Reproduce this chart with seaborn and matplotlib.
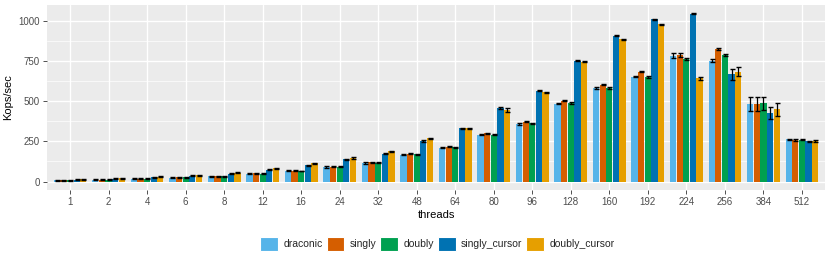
import matplotlib
matplotlib.use("Agg")
import matplotlib.pyplot as plt
from matplotlib.patches import Patch
from matplotlib.ticker import MultipleLocator
import numpy as np
import pandas as pd
import seaborn as sns

threads = ["1", "2", "4", "6", "8", "12", "16", "24", "32", "48",
           "64", "80", "96", "128", "160", "192", "224", "256", "384", "512"]
impls = ["draconic", "singly", "doubly", "singly_cursor", "doubly_cursor"]
colors = ["#56B4E9", "#D55E00", "#00A050", "#0072B2", "#E69F00"]

draconic = [8, 12, 17, 25, 33, 50, 67, 90, 116, 168, 211, 292, 358, 483, 582, 652, 781, 752, 483, 263]
singly = [8, 12, 17, 26, 33, 51, 68, 93, 120, 174, 218, 300, 372, 503, 603, 682, 787, 826, 483, 258]
doubly = [8, 12, 17, 26, 33, 50, 66, 92, 118, 170, 213, 292, 362, 488, 582, 650, 762, 787, 487, 260]
singly_cursor = [12, 18, 27, 37, 50, 75, 103, 139, 174, 253, 330, 458, 565, 752, 907, 1008, 1043, 667, 425, 251]
doubly_cursor = [14, 20, 31, 41, 56, 83, 113, 147, 188, 268, 332, 445, 555, 745, 884, 978, 642, 683, 450, 253]

# standard deviation per bar
draconic_err = [3, 3, 3, 3, 3, 3, 3, 4, 4, 4, 4, 4, 4, 4, 4, 4, 15, 12, 42, 4]
singly_err = [3, 3, 3, 3, 3, 3, 3, 4, 4, 4, 4, 4, 4, 4, 4, 4, 14, 7, 42, 4]
doubly_err = [3, 3, 3, 3, 3, 3, 3, 4, 4, 4, 4, 4, 4, 4, 4, 4, 6, 8, 40, 4]
singly_cursor_err = [3, 3, 3, 3, 3, 3, 3, 4, 4, 4, 4, 4, 4, 4, 4, 4, 5, 35, 36, 4]
doubly_cursor_err = [3, 3, 3, 3, 3, 3, 3, 4, 4, 4, 4, 10, 4, 4, 4, 4, 10, 28, 41, 4]

values = [draconic, singly, doubly, singly_cursor, doubly_cursor]
errors = [draconic_err, singly_err, doubly_err, singly_cursor_err, doubly_cursor_err]

df = pd.DataFrame({
    "threads": threads * len(impls),
    "kops": sum(values, []),
    "impl": [name for name in impls for _ in threads],
})

sns.set_theme(style="darkgrid")
plt.rcParams["font.family"] = ["Liberation Sans", "DejaVu Sans"]

fig = plt.figure(figsize=(8.3, 2.63), dpi=100)
ax = fig.add_axes([0.0566, 0.2776, 0.9374, 0.7034])
ax.set_facecolor("#EBEBEB")

sns.barplot(data=df, x="threads", y="kops", hue="impl", order=threads,
            hue_order=impls, palette=colors, errorbar=None, width=0.86,
            gap=0.06, saturation=1, linewidth=0, legend=False, ax=ax)

for container, err in zip(ax.containers, errors):
    xs = [b.get_x() + b.get_width() / 2 for b in container]
    ys = [b.get_height() for b in container]
    ax.errorbar(xs, ys, yerr=err, fmt="none", ecolor="black",
                elinewidth=0.9, capsize=1.8, capthick=1.0, zorder=3)

ax.set_xlim(-0.6, len(threads) - 0.4)
ax.set_ylim(-52, 1097)
ax.set_yticks([0, 250, 500, 750, 1000])
ax.yaxis.set_minor_locator(MultipleLocator(125))
ax.grid(True, which="major", color="white", linewidth=1.0)
ax.grid(True, which="minor", axis="y", color="white", linewidth=0.5)
ax.set_axisbelow(True)
for spine in ax.spines.values():
    spine.set_visible(False)

ax.tick_params(axis="both", which="major", length=3, width=0.6, color="#333333",
               labelsize=7, labelcolor="#4D4D4D", pad=2, bottom=True, left=True)
ax.tick_params(which="minor", length=0)
ax.set_xlabel("threads", fontsize=8, color="black", labelpad=2)
ax.set_ylabel("Kops/sec", fontsize=8, color="black", labelpad=4)

handles = [Patch(facecolor=c, edgecolor="white", linewidth=0.8) for c in colors]
fig.legend(handles, impls, loc="center", bbox_to_anchor=(0.527, 0.074), ncol=5,
           frameon=False, fontsize=7.5, handlelength=1.7, handleheight=1.7,
           handletextpad=0.5, columnspacing=0.4)

fig.savefig("out.png", dpi=100)
plt.close(fig)
